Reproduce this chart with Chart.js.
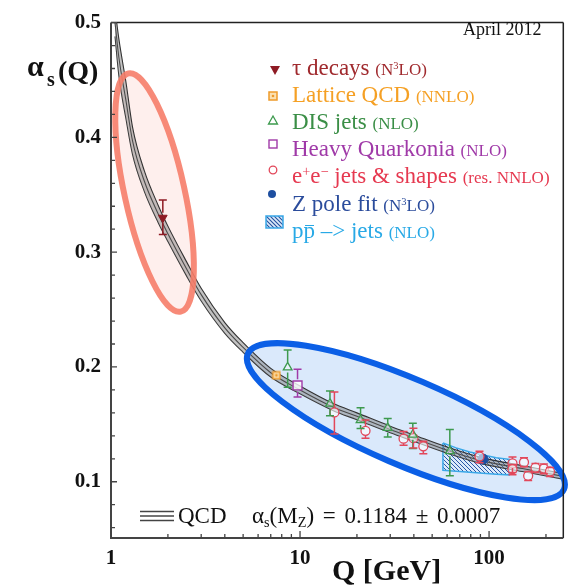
<!DOCTYPE html>
<html lang="en">
<head>
<meta charset="UTF-8">
<title>Running of alpha_s</title>
<script src="https://cdn.jsdelivr.net/npm/chart.js"></script>
<style>
  body { margin: 0; background: #fff; }
  #wrap { position: relative; width: 571px; height: 587px; font-family: "Liberation Serif", "DejaVu Serif", serif; color: #111; }
  #wrap canvas { position: absolute; left: 0; top: 0; }
  .lbl { position: absolute; white-space: nowrap; line-height: 1; }
  .mk { position: absolute; }
  #legend { position: absolute; left: 292px; top: 54.6px; font-size: 23px; line-height: 25.2px; white-space: nowrap; }
  #legend .s { font-size: 17px; }
  sup, sub { font-size: 0.62em; line-height: 0; vertical-align: 0; position: relative; }
  sup { top: -0.5em; }
  sub { top: 0.3em; }
  .ovl { position: relative; }
  .ovl::before { content: ''; position: absolute; left: 1px; right: 1px; top: 0.3em; border-top: 1.4px solid currentColor; }
</style>
</head>
<body>
<div id="wrap">
  <canvas id="alphaChart" width="571" height="587"></canvas>

  <div class="lbl" style="left:27px; top:51px; font-size:30px; font-weight:bold;">&alpha;</div>
  <div class="lbl" style="left:47px; top:69px; font-size:20px; font-weight:bold;">s</div>
  <div class="lbl" style="left:58px; top:56.5px; font-size:28px; font-weight:bold;">(Q)</div>
  <div class="lbl" style="left:332px; top:555px; font-size:30px; font-weight:bold;">Q [GeV]</div>
  <div class="lbl" style="left:463px; top:20px; font-size:18px;">April 2012</div>

  <svg class="mk" style="left:140px; top:510px;" width="34" height="12">
    <g stroke="#444" stroke-width="1.3">
      <line x1="0" y1="1.5" x2="34" y2="1.5"/><line x1="0" y1="6" x2="34" y2="6"/><line x1="0" y1="10.5" x2="34" y2="10.5"/>
    </g>
  </svg>
  <div class="lbl" style="left:178px; top:504px; font-size:23px;">QCD</div>
  <div class="lbl" style="left:252px; top:504px; font-size:23px; word-spacing:3px;">&alpha;<sub>s</sub>(M<sub>Z</sub>) = 0.1184 &plusmn; 0.0007</div>

  <!-- legend markers -->
  <svg class="mk" style="left:269px; top:64px;" width="12" height="12"><polygon points="1,2 11,2 6,11" fill="#8E1B24"/></svg>
  <svg class="mk" style="left:267px; top:90px;" width="12" height="12"><rect x="2" y="2" width="8" height="8" fill="#FBE0B0" stroke="#EE9A2A" stroke-width="1.5"/><circle cx="6" cy="6" r="1.3" fill="#EE9A2A"/></svg>
  <svg class="mk" style="left:267px; top:114px;" width="12" height="12"><polygon points="6,2 10.5,10 1.5,10" fill="none" stroke="#3D9A4E" stroke-width="1.3"/></svg>
  <svg class="mk" style="left:267px; top:138px;" width="12" height="12"><rect x="2" y="2" width="8" height="8" fill="none" stroke="#A03AA8" stroke-width="1.4"/></svg>
  <svg class="mk" style="left:267px; top:164px;" width="12" height="12"><circle cx="6" cy="6" r="3.8" fill="none" stroke="#E2475A" stroke-width="1.3"/></svg>
  <svg class="mk" style="left:266px; top:188px;" width="12" height="12"><circle cx="6" cy="6" r="4" fill="#1E4FA0"/></svg>
  <svg class="mk" style="left:265px; top:215px;" width="19" height="14">
    <defs><pattern id="hp" width="4" height="4" patternUnits="userSpaceOnUse"><rect width="4" height="4" fill="#DCEAFA"/><path d="M0,0 L4,4 M-1,3 L1,5 M3,-1 L5,1" stroke="#24509E" stroke-width="1.1"/></pattern></defs>
    <rect x="1" y="1" width="17" height="12" fill="url(#hp)" stroke="#3AA8E8" stroke-width="1.5"/>
  </svg>

  <div id="legend">
    <div style="color:#A02A2E;">&tau; decays <span class="s">(N<sup>3</sup>LO)</span></div>
    <div style="color:#F5A024;">Lattice QCD <span class="s">(NNLO)</span></div>
    <div style="color:#3A8E46;">DIS jets <span class="s">(NLO)</span></div>
    <div style="color:#A03AA8;">Heavy Quarkonia <span class="s">(NLO)</span></div>
    <div style="color:#E63950;">e<sup>+</sup>e<sup>&minus;</sup> jets &amp; shapes <span class="s">(res. NNLO)</span></div>
    <div style="color:#2B4C9C;">Z pole fit <span class="s">(N<sup>3</sup>LO)</span></div>
    <div style="color:#28A9E6;">p<span class="ovl">p</span> &ndash;&gt; jets <span class="s">(NLO)</span></div>
  </div>
</div>

<script>
// QCD running coupling band
const qcdQ     = [1.05, 1.1, 1.2, 1.3, 1.5, 1.78, 2, 2.5, 3, 4, 5, 7, 10, 15, 20, 30, 40, 60, 91.2, 150, 250];
const qcdMid   = [0.500, 0.470, 0.432, 0.397, 0.362, 0.333, 0.316, 0.286, 0.263, 0.234, 0.217, 0.195, 0.180, 0.165, 0.157, 0.1455, 0.138, 0.1275, 0.1184, 0.1115, 0.1045];
const qcdUpper = [0.512, 0.486, 0.448, 0.409, 0.371, 0.3405, 0.3227, 0.2922, 0.2685, 0.2387, 0.2212, 0.1988, 0.1834, 0.1681, 0.160, 0.1484, 0.1408, 0.1302, 0.121, 0.1141, 0.107];
const qcdLower = [0.488, 0.454, 0.416, 0.385, 0.353, 0.3255, 0.3093, 0.2798, 0.2575, 0.2293, 0.2128, 0.1912, 0.1766, 0.1619, 0.154, 0.1426, 0.1352, 0.1248, 0.1158, 0.1089, 0.102];

// measurements
const tauQ = [1.88];
const tauA = [0.330];
const tauLo = [0.3155];
const tauHi = [0.3455];

const latQ = [7.5];
const latA = [0.1927];

const disQ  = [8.6, 14.4, 20.9, 29.1, 39.5, 62];
const disA  = [0.1996, 0.168, 0.1538, 0.147, 0.141, 0.1266];
const disLo = [0.1824, 0.1575, 0.1464, 0.139, 0.1289, 0.1052];
const disHi = [0.2147, 0.179, 0.1644, 0.155, 0.1509, 0.1455];

const hqQ  = [9.7];
const hqA  = [0.1839];
const hqLo = [0.1738];
const hqHi = [0.1981];

const eeQ  = [15.2, 22.2, 35.3, 39.8, 44.9, 89, 133, 133, 153, 161, 176, 195, 210];
const eeA  = [0.1604, 0.1444, 0.1375, 0.138, 0.1309, 0.122, 0.116, 0.111, 0.117, 0.1052, 0.1123, 0.1115, 0.109];
const eeLo = [0.1415, 0.138, 0.1318, 0.1294, 0.1243, 0.1166, 0.108, 0.106, 0.113, 0.101, 0.108, 0.107, 0.1045];
const eeHi = [0.1781, 0.1538, 0.1438, 0.1466, 0.1352, 0.1265, 0.1215, 0.115, 0.121, 0.109, 0.116, 0.1155, 0.1125];

const zQ = [93];
const zA = [0.1197];

const ppQ     = [57, 67, 79, 109, 128];
const ppUpper = [0.1337, 0.1295, 0.126, 0.1209, 0.1195];
const ppLower = [0.110, 0.1092, 0.1083, 0.1066, 0.106];

const xTicks = [1, 10, 100];
const xMinor = [2, 3, 4, 5, 6, 7, 8, 9, 20, 30, 40, 50, 60, 70, 80, 90, 200];
const yTicks = [0.1, 0.2, 0.3, 0.4, 0.5];
const yMinor = [0.06, 0.08, 0.12, 0.14, 0.16, 0.18, 0.22, 0.24, 0.26, 0.28, 0.32, 0.34, 0.36, 0.38, 0.42, 0.44, 0.46, 0.48];

// highlight ellipses: centre in data units, radii/rotation in pixels
const highlights = [
  { q: 1.70, a: 0.352, rx: 122, ry: 30, rot: 77.6, fill: 'rgba(253,230,228,0.65)', stroke: 'rgba(246,125,105,0.9)' },
  { q: 36.3, a: 0.1524, rx: 172, ry: 43, rot: 23.2, fill: 'rgba(205,226,250,0.75)', stroke: '#0B5FE6' }
];

const xy = (qs, vals) => qs.map((q, i) => ({ x: q, y: vals[i] }));

function latticeMarker() {
  const c = document.createElement('canvas');
  c.width = 10; c.height = 10;
  const g = c.getContext('2d');
  g.fillStyle = '#FBE0B0'; g.fillRect(1, 1, 8, 8);
  g.strokeStyle = '#EE9A2A'; g.lineWidth = 1.5; g.strokeRect(1.5, 1.5, 7, 7);
  g.fillStyle = '#EE9A2A'; g.beginPath(); g.arc(5, 5, 1.4, 0, Math.PI * 2); g.fill();
  return c;
}

function hatchPattern(ctx) {
  const c = document.createElement('canvas');
  c.width = 4; c.height = 4;
  const g = c.getContext('2d');
  g.fillStyle = '#DCEAFA'; g.fillRect(0, 0, 4, 4);
  g.strokeStyle = '#2A58A8'; g.lineWidth = 1;
  g.beginPath();
  g.moveTo(0, 0); g.lineTo(4, 4);
  g.moveTo(-1, 3); g.lineTo(1, 5);
  g.moveTo(3, -1); g.lineTo(5, 1);
  g.stroke();
  return ctx.createPattern(c, 'repeat');
}

const ellipsePlugin = {
  id: 'ellipses',
  beforeDatasetsDraw(chart) {
    const { ctx, scales } = chart;
    highlights.forEach(e => {
      ctx.save();
      ctx.beginPath();
      ctx.ellipse(scales.x.getPixelForValue(e.q), scales.y.getPixelForValue(e.a), e.rx, e.ry, e.rot * Math.PI / 180, 0, Math.PI * 2);
      ctx.fillStyle = e.fill;
      ctx.fill();
      ctx.restore();
    });
  },
  afterDatasetsDraw(chart) {
    const { ctx, scales } = chart;
    highlights.forEach(e => {
      ctx.save();
      ctx.beginPath();
      ctx.ellipse(scales.x.getPixelForValue(e.q), scales.y.getPixelForValue(e.a), e.rx, e.ry, e.rot * Math.PI / 180, 0, Math.PI * 2);
      ctx.lineWidth = 6;
      ctx.strokeStyle = e.stroke;
      ctx.stroke();
      ctx.restore();
    });
  }
};

const errorBarPlugin = {
  id: 'errorBars',
  afterDatasetsDraw(chart) {
    const ctx = chart.ctx;
    const ys = chart.scales.y;
    chart.data.datasets.forEach((ds, i) => {
      if (!ds.errLo) return;
      const meta = chart.getDatasetMeta(i);
      ctx.save();
      ctx.strokeStyle = ds.borderColor;
      ctx.lineWidth = 1.5;
      meta.data.forEach((pt, j) => {
        const yHi = ys.getPixelForValue(ds.errHi[j]);
        const yLo = ys.getPixelForValue(ds.errLo[j]);
        const r = ds.pointRadius;
        ctx.beginPath();
        if (yHi < pt.y - r) { ctx.moveTo(pt.x, yHi); ctx.lineTo(pt.x, pt.y - r); }
        if (yLo > pt.y + r) { ctx.moveTo(pt.x, pt.y + r); ctx.lineTo(pt.x, yLo); }
        ctx.moveTo(pt.x - 4, yHi); ctx.lineTo(pt.x + 4, yHi);
        ctx.moveTo(pt.x - 4, yLo); ctx.lineTo(pt.x + 4, yLo);
        ctx.stroke();
      });
      ctx.restore();
    });
  }
};

const framePlugin = {
  id: 'frame',
  afterDraw(chart) {
    const { ctx, chartArea: a, scales } = chart;
    ctx.save();
    ctx.strokeStyle = '#222';
    ctx.lineWidth = 1.5;
    ctx.beginPath();
    ctx.moveTo(a.left, a.top); ctx.lineTo(a.right, a.top);
    ctx.moveTo(a.right, a.top); ctx.lineTo(a.right, a.bottom);
    ctx.stroke();
    ctx.strokeStyle = '#444';
    ctx.lineWidth = 2;
    ctx.beginPath();
    ctx.moveTo(a.left, a.top); ctx.lineTo(a.left, a.bottom); ctx.lineTo(a.right, a.bottom);
    ctx.stroke();
    ctx.lineWidth = 1.3;
    ctx.beginPath();
    yTicks.forEach(v => { const y = scales.y.getPixelForValue(v); ctx.moveTo(a.left, y); ctx.lineTo(a.left + 6, y); });
    yMinor.forEach(v => { const y = scales.y.getPixelForValue(v); ctx.moveTo(a.left, y); ctx.lineTo(a.left + 4, y); });
    xTicks.forEach(v => { const x = scales.x.getPixelForValue(v); ctx.moveTo(x, a.bottom); ctx.lineTo(x, a.bottom - 7); });
    xMinor.forEach(v => { const x = scales.x.getPixelForValue(v); ctx.moveTo(x, a.bottom); ctx.lineTo(x, a.bottom - 4); });
    ctx.stroke();
    ctx.restore();
  }
};

const ctx = document.getElementById('alphaChart').getContext('2d');

const ppShape = xy(ppQ, ppUpper).concat(xy(ppQ, ppLower).reverse());
ppShape.push(ppShape[0]);

const curveStyle = {
  borderColor: '#333', borderWidth: 1.1, pointRadius: 0, showLine: true,
  cubicInterpolationMode: 'monotone', order: 3
};

new Chart(ctx, {
  type: 'line',
  data: {
    datasets: [
      Object.assign({ label: 'QCD upper', data: xy(qcdQ, qcdUpper), fill: '+2', backgroundColor: 'rgba(110,110,110,0.42)' }, curveStyle),
      Object.assign({ label: 'QCD', data: xy(qcdQ, qcdMid), fill: false }, curveStyle),
      Object.assign({ label: 'QCD lower', data: xy(qcdQ, qcdLower), fill: false }, curveStyle),
      { label: 'pp jets', data: ppShape, fill: 'shape', backgroundColor: hatchPattern(ctx), borderColor: '#3AA8E8',
        borderWidth: 1.5, pointRadius: 0, tension: 0, showLine: true, order: 5 },
      { label: 'tau decays', data: xy(tauQ, tauA), errLo: tauLo, errHi: tauHi, showLine: false,
        pointStyle: 'triangle', rotation: 180, pointRadius: 5, backgroundColor: '#8E1B24', borderColor: '#8E1B24', order: 0 },
      { label: 'Lattice QCD', data: xy(latQ, latA), showLine: false, pointStyle: latticeMarker(), pointRadius: 5,
        borderColor: '#EE9A2A', order: 0 },
      { label: 'DIS jets', data: xy(disQ, disA), errLo: disLo, errHi: disHi, showLine: false,
        pointStyle: 'triangle', pointRadius: 5, backgroundColor: 'rgba(255,255,255,0.4)', borderColor: '#3D9A4E', borderWidth: 1.3, order: 0 },
      { label: 'Heavy Quarkonia', data: xy(hqQ, hqA), errLo: hqLo, errHi: hqHi, showLine: false,
        pointStyle: 'rect', pointRadius: 6.3, backgroundColor: 'rgba(255,255,255,0.8)', borderColor: '#A03AA8', borderWidth: 1.4, order: 0 },
      { label: 'e+e- jets & shapes', data: xy(eeQ, eeA), errLo: eeLo, errHi: eeHi, showLine: false,
        pointStyle: 'circle', pointRadius: 4.5, backgroundColor: 'rgba(255,255,255,0.6)', borderColor: '#E2475A', borderWidth: 1.3, order: 0 },
      { label: 'Z pole fit', data: xy(zQ, zA), showLine: false, pointStyle: 'circle', pointRadius: 5,
        backgroundColor: '#1E4FA0', borderColor: '#1E4FA0', order: 0 }
    ]
  },
  options: {
    responsive: false,
    animation: false,
    devicePixelRatio: 1,
    layout: { padding: { top: 15, right: 3, left: 0, bottom: 0 } },
    plugins: { legend: { display: false }, tooltip: { enabled: false } },
    scales: {
      x: {
        type: 'logarithmic', min: 1, max: 247,
        grid: { display: false, drawTicks: false },
        border: { display: false },
        afterBuildTicks: s => { s.ticks = xTicks.map(v => ({ value: v })); },
        afterFit: s => { s.height = 49; },
        ticks: { padding: 8, color: '#111', autoSkip: false, maxRotation: 0,
          font: { family: 'Liberation Serif', size: 21, weight: 'bold' }, callback: v => String(v) }
      },
      y: {
        type: 'linear', min: 0.051, max: 0.5,
        grid: { display: false, drawTicks: false },
        border: { display: false },
        afterBuildTicks: s => { s.ticks = yTicks.map(v => ({ value: v })); },
        afterFit: s => { s.width = 111; },
        ticks: { padding: 10, color: '#111',
          font: { family: 'Liberation Serif', size: 21, weight: 'bold' }, callback: v => v.toFixed(1) }
      }
    }
  },
  plugins: [ellipsePlugin, errorBarPlugin, framePlugin]
});
</script>
</body>
</html>
